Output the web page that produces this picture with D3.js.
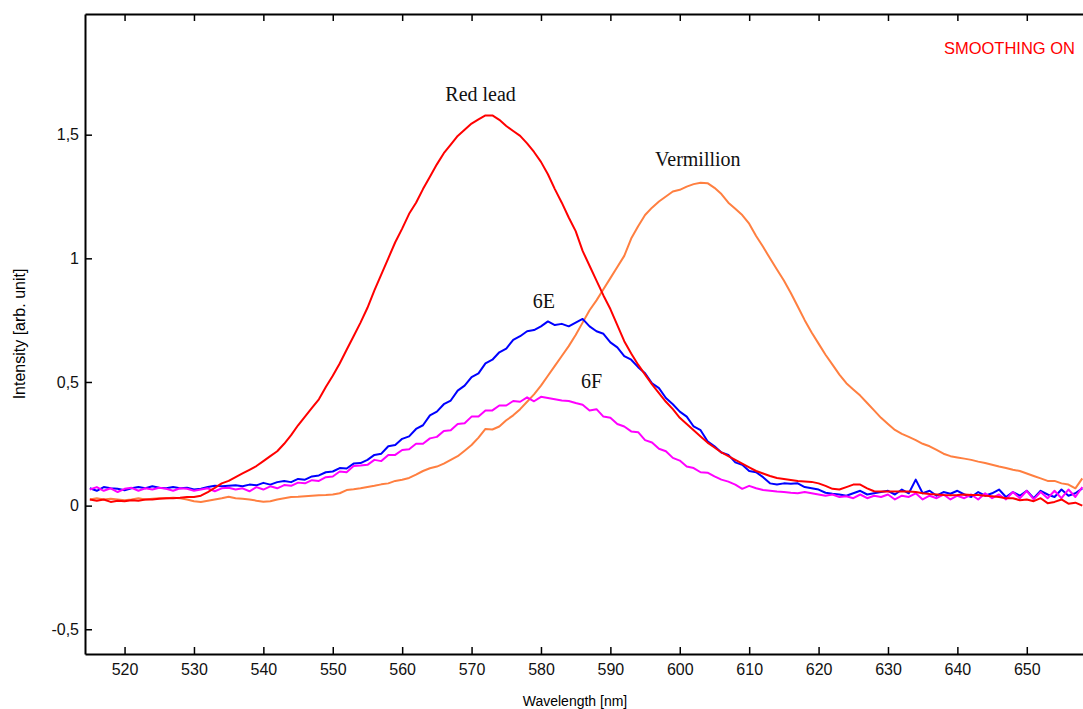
<!DOCTYPE html>
<html>
<head>
<meta charset="utf-8">
<script src="https://cdn.jsdelivr.net/npm/d3@7"></script>
<style>
  body { margin: 0; background: #fff; }
  .axis text { font-family: "Liberation Sans", Arial, sans-serif; font-size: 16px; fill: #111; }
  .lbl { font-family: "Liberation Serif", "Times New Roman", serif; font-size: 20px; fill: #111; }
</style>
</head>
<body>
<div id="chart"></div>
<script>
// wavelengths, 1 nm step (515..658)
const wavelength = d3.range(515, 659);

const redLead = [
  0.025,0.02,0.025,0.015,0.02,0.018,0.022,0.02,0.025,0.025,
  0.028,0.03,0.03,0.032,0.035,0.035,0.04,0.055,0.072,0.09,
  0.1,0.115,0.13,0.145,0.16,0.18,0.2,0.22,0.25,0.285,
  0.325,0.36,0.395,0.43,0.48,0.525,0.575,0.63,0.685,0.74,
  0.8,0.87,0.935,1.0,1.065,1.12,1.18,1.225,1.28,1.33,
  1.38,1.425,1.46,1.495,1.52,1.545,1.562,1.578,1.578,1.56,
  1.535,1.515,1.495,1.465,1.43,1.39,1.34,1.28,1.225,1.165,
  1.11,1.03,0.97,0.91,0.85,0.795,0.73,0.665,0.615,0.57,
  0.53,0.49,0.455,0.42,0.39,0.355,0.33,0.305,0.28,0.255,
  0.235,0.215,0.2,0.185,0.17,0.155,0.14,0.13,0.12,0.112,
  0.108,0.104,0.1,0.098,0.096,0.09,0.08,0.068,0.065,0.075,
  0.085,0.085,0.07,0.058,0.057,0.057,0.057,0.057,0.057,0.055,
  0.05,0.047,0.045,0.043,0.042,0.043,0.045,0.043,0.043,0.04,
  0.038,0.035,0.03,0.03,0.022,0.025,0.018,0.03,0.01,0.015,
  0.025,0.008,0.012,0.0
];

const sample6E = [
  0.07,0.06,0.075,0.07,0.068,0.062,0.07,0.075,0.07,0.078,
  0.072,0.07,0.075,0.07,0.072,0.065,0.068,0.075,0.08,0.078,
  0.08,0.082,0.078,0.085,0.082,0.092,0.085,0.095,0.1,0.095,
  0.108,0.105,0.118,0.122,0.135,0.138,0.152,0.15,0.17,0.172,
  0.185,0.205,0.21,0.24,0.245,0.27,0.28,0.31,0.325,0.365,
  0.38,0.41,0.425,0.465,0.485,0.52,0.535,0.575,0.59,0.62,
  0.635,0.67,0.685,0.705,0.71,0.725,0.745,0.73,0.735,0.725,
  0.74,0.755,0.725,0.705,0.695,0.66,0.64,0.605,0.59,0.56,
  0.535,0.495,0.475,0.435,0.41,0.38,0.36,0.32,0.305,0.26,
  0.24,0.215,0.205,0.175,0.165,0.14,0.135,0.115,0.09,0.085,
  0.09,0.088,0.09,0.075,0.07,0.065,0.052,0.048,0.045,0.04,
  0.05,0.06,0.045,0.05,0.055,0.06,0.045,0.065,0.05,0.105,
  0.05,0.06,0.04,0.055,0.048,0.06,0.045,0.035,0.055,0.04,
  0.05,0.065,0.035,0.055,0.04,0.06,0.03,0.06,0.045,0.035,
  0.065,0.04,0.05,0.07
];

const sample6F = [
  0.065,0.075,0.06,0.07,0.055,0.068,0.072,0.06,0.07,0.065,
  0.072,0.068,0.06,0.07,0.068,0.06,0.065,0.07,0.058,0.07,
  0.072,0.065,0.07,0.058,0.075,0.065,0.078,0.07,0.083,0.08,
  0.093,0.09,0.103,0.1,0.115,0.118,0.138,0.135,0.16,0.162,
  0.165,0.185,0.18,0.205,0.205,0.225,0.228,0.25,0.25,0.272,
  0.278,0.302,0.305,0.33,0.333,0.36,0.36,0.385,0.385,0.405,
  0.405,0.423,0.42,0.438,0.422,0.44,0.435,0.43,0.425,0.423,
  0.415,0.408,0.385,0.39,0.36,0.355,0.33,0.32,0.3,0.297,
  0.265,0.255,0.23,0.22,0.193,0.182,0.158,0.152,0.135,0.133,
  0.118,0.105,0.097,0.085,0.068,0.08,0.07,0.063,0.06,0.057,
  0.055,0.052,0.05,0.055,0.05,0.045,0.04,0.045,0.035,0.038,
  0.03,0.045,0.03,0.04,0.035,0.045,0.025,0.04,0.035,0.05,
  0.025,0.04,0.03,0.045,0.025,0.04,0.03,0.045,0.025,0.05,
  0.03,0.045,0.025,0.055,0.03,0.06,0.025,0.055,0.03,0.06,
  0.03,0.065,0.035,0.075
];

const vermillion = [
  0.025,0.03,0.025,0.028,0.025,0.022,0.025,0.03,0.025,0.028,
  0.03,0.03,0.032,0.03,0.025,0.018,0.015,0.02,0.025,0.03,
  0.036,0.03,0.028,0.025,0.02,0.016,0.018,0.025,0.03,0.035,
  0.036,0.038,0.04,0.042,0.043,0.045,0.05,0.063,0.066,0.07,
  0.075,0.08,0.086,0.09,0.1,0.105,0.112,0.125,0.14,0.151,
  0.158,0.17,0.185,0.2,0.222,0.245,0.275,0.31,0.308,0.32,
  0.345,0.365,0.39,0.42,0.45,0.485,0.525,0.565,0.605,0.645,
  0.69,0.74,0.79,0.83,0.875,0.92,0.965,1.01,1.08,1.13,
  1.175,1.205,1.23,1.25,1.27,1.277,1.29,1.3,1.306,1.304,
  1.285,1.26,1.225,1.2,1.175,1.14,1.09,1.047,1.0,0.955,
  0.91,0.86,0.805,0.75,0.7,0.655,0.61,0.57,0.53,0.495,
  0.47,0.445,0.415,0.385,0.355,0.33,0.306,0.29,0.278,0.265,
  0.25,0.24,0.225,0.21,0.2,0.195,0.19,0.185,0.178,0.172,
  0.165,0.158,0.152,0.145,0.14,0.13,0.12,0.11,0.1,0.1,
  0.09,0.085,0.07,0.11
];

const xTicks = [520,530,540,550,560,570,580,590,600,610,620,630,640,650];
const yTicks = [-0.5, 0, 0.5, 1, 1.5];

// drawn back to front
const series = [
  {name: "Vermillion", values: vermillion, color: "#ff7f40"},
  {name: "6E", values: sample6E, color: "#0000ff"},
  {name: "6F", values: sample6F, color: "#ff00ff"},
  {name: "Red lead", values: redLead, color: "#ff0000"}
];

const labels = [
  {text: "Red lead", wl: 571.3, v: 1.635},
  {text: "Vermillion", wl: 602.6, v: 1.375},
  {text: "6E", wl: 580.4, v: 0.80},
  {text: "6F", wl: 587.3, v: 0.477}
];

const W = 1083, H = 709;
const mLeft = 85, mRight = 1083, mTop = 14, mBottom = 654;

const svg = d3.select("#chart").append("svg")
  .attr("width", W)
  .attr("height", H);

const x = d3.scaleLinear().domain([514.3, 658.1]).range([mLeft, mRight]);
const y = d3.scaleLinear().domain([-0.6, 1.988]).range([mBottom, mTop]);

svg.append("clipPath").attr("id", "plot")
  .append("rect")
  .attr("x", mLeft).attr("y", mTop)
  .attr("width", mRight - mLeft).attr("height", mBottom - mTop);

const line = d3.line()
  .x(d => x(d[0]))
  .y(d => y(d[1]));

svg.append("g")
  .attr("clip-path", "url(#plot)")
  .selectAll("path")
  .data(series)
  .join("path")
    .attr("fill", "none")
    .attr("stroke", d => d.color)
    .attr("stroke-width", 2)
    .attr("stroke-linejoin", "round")
    .attr("d", d => line(wavelength.map((w, i) => [w, d.values[i]])));

// axes, ticks pointing inward
const fmt = d => String(d).replace(".", ",");

const gx = svg.append("g").attr("class", "axis")
  .attr("transform", `translate(0,${mBottom})`)
  .call(d3.axisBottom(x).tickValues(xTicks).tickSizeInner(-7).tickSizeOuter(0).tickPadding(10));

const gTop = svg.append("g").attr("class", "axis")
  .attr("transform", `translate(0,${mTop})`)
  .call(d3.axisTop(x).tickValues(xTicks).tickSizeInner(-7).tickSizeOuter(0).tickFormat(""));

const gy = svg.append("g").attr("class", "axis")
  .attr("transform", `translate(${mLeft},0)`)
  .call(d3.axisLeft(y).tickValues(yTicks).tickSizeInner(-7).tickSizeOuter(0).tickPadding(6).tickFormat(fmt));

[gx, gTop, gy].forEach(g => {
  g.select(".domain").attr("stroke", "#000").attr("stroke-width", 2);
  g.selectAll(".tick line").attr("stroke", "#000").attr("stroke-width", 1.5);
});

svg.append("text")
  .attr("transform", "translate(25,334) rotate(-90)")
  .attr("text-anchor", "middle")
  .style("font-family", "'Liberation Sans', Arial, sans-serif")
  .style("font-size", "16px")
  .text("Intensity [arb. unit]");

svg.append("text")
  .attr("x", 575)
  .attr("y", 706)
  .attr("text-anchor", "middle")
  .style("font-family", "'Liberation Sans', Arial, sans-serif")
  .style("font-size", "14px")
  .text("Wavelength [nm]");

svg.append("text")
  .attr("x", 1075)
  .attr("y", 54)
  .attr("text-anchor", "end")
  .attr("fill", "#ff0000")
  .style("font-family", "'Liberation Sans', Arial, sans-serif")
  .style("font-size", "16.5px")
  .text("SMOOTHING ON");

svg.selectAll(".lbl")
  .data(labels)
  .join("text")
    .attr("class", "lbl")
    .attr("x", d => x(d.wl))
    .attr("y", d => y(d.v))
    .attr("text-anchor", "middle")
    .text(d => d.text);
</script>
</body>
</html>
